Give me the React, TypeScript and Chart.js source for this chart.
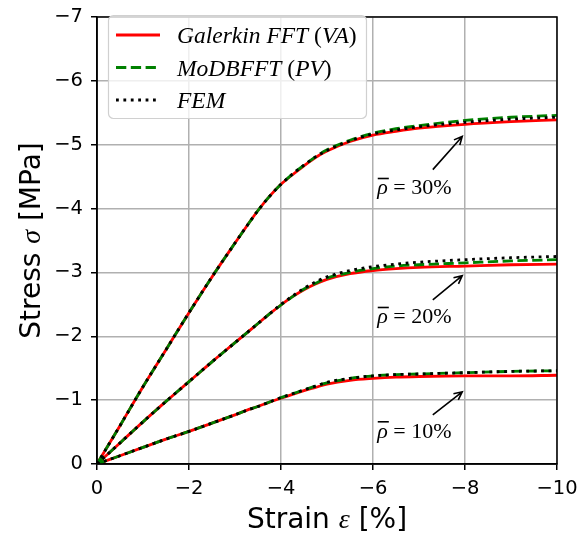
import React, { useEffect, useRef } from "react";
import { Chart, registerables } from "chart.js";
Chart.register(...registerables);

const strain = [0, -0.5, -1, -1.5, -2, -2.5, -3, -3.25, -3.5, -3.75, -4, -4.25, -4.5, -4.75, -5, -5.5, -6, -6.5, -7, -8, -9, -10];

const galerkin30 = [0, -0.6, -1.21, -1.79, -2.37, -2.93, -3.46, -3.72, -3.97, -4.19, -4.38, -4.53, -4.67, -4.8, -4.9, -5.05, -5.15, -5.21, -5.26, -5.32, -5.36, -5.39];
const modbfft30 = [0, -0.6, -1.21, -1.79, -2.37, -2.93, -3.46, -3.72, -3.97, -4.19, -4.38, -4.54, -4.68, -4.81, -4.92, -5.07, -5.18, -5.25, -5.3, -5.38, -5.43, -5.46];
const fem30 = [0, -0.6, -1.21, -1.79, -2.37, -2.93, -3.46, -3.72, -3.97, -4.19, -4.38, -4.54, -4.68, -4.81, -4.91, -5.06, -5.17, -5.23, -5.28, -5.35, -5.4, -5.43];

const galerkin20 = [0, -0.33, -0.66, -0.98, -1.29, -1.6, -1.9, -2.05, -2.2, -2.35, -2.49, -2.62, -2.73, -2.82, -2.89, -2.98, -3.03, -3.06, -3.08, -3.1, -3.12, -3.13];
const modbfft20 = [0, -0.33, -0.66, -0.98, -1.29, -1.6, -1.9, -2.05, -2.2, -2.35, -2.49, -2.62, -2.74, -2.83, -2.91, -3.0, -3.06, -3.1, -3.12, -3.15, -3.18, -3.2];
const fem20 = [0, -0.33, -0.66, -0.98, -1.29, -1.6, -1.9, -2.05, -2.2, -2.35, -2.5, -2.63, -2.75, -2.85, -2.93, -3.03, -3.09, -3.13, -3.16, -3.2, -3.23, -3.25];

const galerkin10 = [0, -0.13, -0.26, -0.39, -0.51, -0.64, -0.77, -0.84, -0.9, -0.97, -1.03, -1.09, -1.15, -1.2, -1.25, -1.31, -1.34, -1.36, -1.37, -1.38, -1.38, -1.39];
const modbfft10 = [0, -0.13, -0.26, -0.39, -0.51, -0.64, -0.77, -0.84, -0.9, -0.97, -1.04, -1.1, -1.16, -1.22, -1.27, -1.34, -1.38, -1.4, -1.41, -1.43, -1.45, -1.46];
const fem10 = [0, -0.13, -0.26, -0.39, -0.51, -0.64, -0.77, -0.84, -0.9, -0.97, -1.04, -1.1, -1.16, -1.22, -1.28, -1.34, -1.38, -1.4, -1.41, -1.43, -1.45, -1.46];

const annotationLabels = ["30%", "20%", "10%"];
const annotationTipStrain = [-7.94, -7.94, -7.94];
const annotationTipStress = [-5.13, -2.95, -1.13];
const annotationTailStrain = [-7.3, -7.3, -7.3];
const annotationTailStress = [-4.61, -2.57, -0.77];
const annotationTextStrain = [-6.9, -6.9, -6.9];
const annotationTextStress = [-4.33, -2.31, -0.52];

const xTicks = [0, -2, -4, -6, -8, -10];
const yTicks = [0, -1, -2, -3, -4, -5, -6, -7];

const SANS = "'DejaVu Sans', sans-serif";
const SERIF = "'Liberation Serif', serif";

type Part = { t: string; f: string };

function richWidth(ctx: CanvasRenderingContext2D, parts: Part[]) {
  let w = 0;
  for (const p of parts) {
    ctx.font = p.f;
    w += ctx.measureText(p.t).width;
  }
  return w;
}
function drawRich(ctx: CanvasRenderingContext2D, parts: Part[], x: number, y: number) {
  let cx = x;
  ctx.textAlign = "left";
  for (const p of parts) {
    ctx.font = p.f;
    ctx.fillText(p.t, cx, y);
    cx += ctx.measureText(p.t).width;
  }
}

const lineW = 2.8;
const styles = {
  red: { color: "#ff0000", dash: [] as number[] },
  green: { color: "#008000", dash: [10.3, 4.5] },
  black: { color: "#000000", dash: [2.8, 4.6] },
};

export default function App() {
  const ref = useRef<HTMLCanvasElement>(null);
  useEffect(() => {
    if (!ref.current) return;
    const mk = (label: string, data: number[], st: { color: string; dash: number[] }, order: number) => ({
      label,
      data: strain.map((x, i) => ({ x, y: data[i] })),
      borderColor: st.color,
      backgroundColor: st.color,
      borderDash: st.dash,
      borderWidth: lineW,
      borderCapStyle: "butt" as const,
      pointRadius: 0,
      fill: false,
      cubicInterpolationMode: "monotone" as const,
      order,
    });

    const overlay = {
      id: "overlay",
      afterDraw(chart: any) {
        const ctx: CanvasRenderingContext2D = chart.ctx;
        const a = chart.chartArea;
        const xs = chart.scales.x;
        const ys = chart.scales.y;
        ctx.save();
        ctx.strokeStyle = "#000";
        ctx.lineWidth = 1.5;
        ctx.setLineDash([]);
        ctx.strokeRect(a.left, a.top, a.right - a.left, a.bottom - a.top);

        for (let i = 0; i < annotationLabels.length; i++) {
          const tx = xs.getPixelForValue(annotationTipStrain[i]);
          const ty = ys.getPixelForValue(annotationTipStress[i]);
          const sx = xs.getPixelForValue(annotationTailStrain[i]);
          const sy = ys.getPixelForValue(annotationTailStress[i]);
          ctx.strokeStyle = "#000";
          ctx.lineWidth = 1.6;
          ctx.beginPath();
          ctx.moveTo(sx, sy);
          ctx.lineTo(tx, ty);
          const ang = Math.atan2(ty - sy, tx - sx);
          const hl = 9;
          const ha = 0.45;
          ctx.moveTo(tx - hl * Math.cos(ang - ha), ty - hl * Math.sin(ang - ha));
          ctx.lineTo(tx, ty);
          ctx.lineTo(tx - hl * Math.cos(ang + ha), ty - hl * Math.sin(ang + ha));
          ctx.stroke();

          const cx = xs.getPixelForValue(annotationTextStrain[i]);
          const cy = ys.getPixelForValue(annotationTextStress[i]);
          const rhoFont = `italic 22px ${SERIF}`;
          const upFont = `22px ${SERIF}`;
          const parts: Part[] = [
            { t: "ρ", f: rhoFont },
            { t: " = ", f: upFont },
            { t: annotationLabels[i], f: upFont },
          ];
          const w = richWidth(ctx, parts);
          const x0 = cx - w / 2;
          ctx.fillStyle = "#000";
          ctx.textBaseline = "alphabetic";
          const base = cy + 7;
          drawRich(ctx, parts, x0, base);
          ctx.font = rhoFont;
          const rw = ctx.measureText("ρ").width;
          ctx.lineWidth = 1.6;
          ctx.beginPath();
          ctx.moveTo(x0 + 0.5, base - 16);
          ctx.lineTo(x0 + rw + 1, base - 16);
          ctx.stroke();
        }

        const lx = 108.5, ly = 15.5, lw = 258, lh = 103, r = 5;
        ctx.beginPath();
        ctx.moveTo(lx + r, ly);
        ctx.lineTo(lx + lw - r, ly);
        ctx.arcTo(lx + lw, ly, lx + lw, ly + r, r);
        ctx.lineTo(lx + lw, ly + lh - r);
        ctx.arcTo(lx + lw, ly + lh, lx + lw - r, ly + lh, r);
        ctx.lineTo(lx + r, ly + lh);
        ctx.arcTo(lx, ly + lh, lx, ly + lh - r, r);
        ctx.lineTo(lx, ly + r);
        ctx.arcTo(lx, ly, lx + r, ly, r);
        ctx.closePath();
        ctx.fillStyle = "rgba(255,255,255,0.8)";
        ctx.fill();
        ctx.strokeStyle = "#d0d0d0";
        ctx.lineWidth = 1.2;
        ctx.stroke();

        const it = `italic 23.5px ${SERIF}`;
        const up = `23.5px ${SERIF}`;
        const rows: { st: { color: string; dash: number[] }; parts: Part[] }[] = [
          { st: styles.red, parts: [{ t: "Galerkin FFT ", f: it }, { t: "(", f: up }, { t: "VA", f: it }, { t: ")", f: up }] },
          { st: styles.green, parts: [{ t: "MoDBFFT ", f: it }, { t: "(", f: up }, { t: "PV", f: it }, { t: ")", f: up }] },
          { st: styles.black, parts: [{ t: "FEM", f: it }] },
        ];
        const rowY = [35, 67.5, 100];
        rows.forEach((row, i) => {
          ctx.strokeStyle = row.st.color;
          ctx.lineWidth = lineW;
          ctx.lineCap = "butt";
          ctx.setLineDash(row.st.dash);
          ctx.beginPath();
          ctx.moveTo(116, rowY[i]);
          ctx.lineTo(160, rowY[i]);
          ctx.stroke();
          ctx.setLineDash([]);
          ctx.fillStyle = "#000";
          ctx.textBaseline = "alphabetic";
          drawRich(ctx, row.parts, 177, rowY[i] + 8);
        });

        const tf = `28px ${SANS}`;
        const tfm = `italic 28px ${SERIF}`;
        const xParts: Part[] = [
          { t: "Strain ", f: tf },
          { t: "ε", f: tfm },
          { t: " [%]", f: tf },
        ];
        const xw = richWidth(ctx, xParts);
        ctx.fillStyle = "#000";
        ctx.textBaseline = "middle";
        drawRich(ctx, xParts, (a.left + a.right) / 2 - xw / 2, 521);
        const yParts: Part[] = [
          { t: "Stress ", f: tf },
          { t: "σ", f: tfm },
          { t: " [MPa]", f: tf },
        ];
        const yw = richWidth(ctx, yParts);
        ctx.translate(33, (a.top + a.bottom) / 2);
        ctx.rotate(-Math.PI / 2);
        drawRich(ctx, yParts, -yw / 2, 0);
        ctx.restore();
      },
    };

    const fmt = (v: any) => (Number(v) === 0 ? "0" : "\u2212" + Math.abs(Number(v)));

    const chart = new Chart(ref.current, {
      type: "line",
      data: {
        datasets: [
          mk("Galerkin 30", galerkin30, styles.red, 3),
          mk("Galerkin 20", galerkin20, styles.red, 3),
          mk("Galerkin 10", galerkin10, styles.red, 3),
          mk("MoDBFFT 30", modbfft30, styles.green, 2),
          mk("MoDBFFT 20", modbfft20, styles.green, 2),
          mk("MoDBFFT 10", modbfft10, styles.green, 2),
          mk("FEM 30", fem30, styles.black, 1),
          mk("FEM 20", fem20, styles.black, 1),
          mk("FEM 10", fem10, styles.black, 1),
        ] as any,
      },
      options: {
        animation: false,
        responsive: false,
        devicePixelRatio: 1,
        layout: { padding: { top: 17, right: 22, left: 0, bottom: 0 } },
        plugins: { legend: { display: false }, tooltip: { enabled: false } },
        scales: {
          x: {
            type: "linear",
            min: -10,
            max: 0,
            reverse: true,
            afterBuildTicks: (s: any) => {
              s.ticks = xTicks.map((v) => ({ value: v }));
            },
            afterFit: (s: any) => {
              s.height = 76;
              s.paddingLeft = 0;
              s.paddingRight = 0;
            },
            ticks: { callback: fmt, color: "#000", font: { family: SANS, size: 19.5 }, padding: 7, maxRotation: 0, autoSkip: false },
            grid: { color: "#b0b0b0", lineWidth: 1.5, tickColor: "#000", tickWidth: 1.5, tickLength: 6 },
            border: { color: "#000", width: 1.5 },
          },
          y: {
            type: "linear",
            min: -7,
            max: 0,
            reverse: true,
            afterBuildTicks: (s: any) => {
              s.ticks = yTicks.map((v) => ({ value: v }));
            },
            afterFit: (s: any) => {
              s.width = 97;
              s.paddingTop = 0;
              s.paddingBottom = 0;
            },
            ticks: { callback: fmt, color: "#000", font: { family: SANS, size: 19.5 }, padding: 8, autoSkip: false },
            grid: { color: "#b0b0b0", lineWidth: 1.5, tickColor: "#000", tickWidth: 1.5, tickLength: 6 },
            border: { color: "#000", width: 1.5 },
          },
        },
      },
      plugins: [overlay],
    } as any);
    return () => chart.destroy();
  }, []);
  return (
    <div style={{ position: "absolute", left: 0, top: 0, width: 579, height: 540, background: "#fff" }}>
      <canvas ref={ref} width={579} height={540} style={{ width: 579, height: 540, display: "block" }} />
    </div>
  );
}
